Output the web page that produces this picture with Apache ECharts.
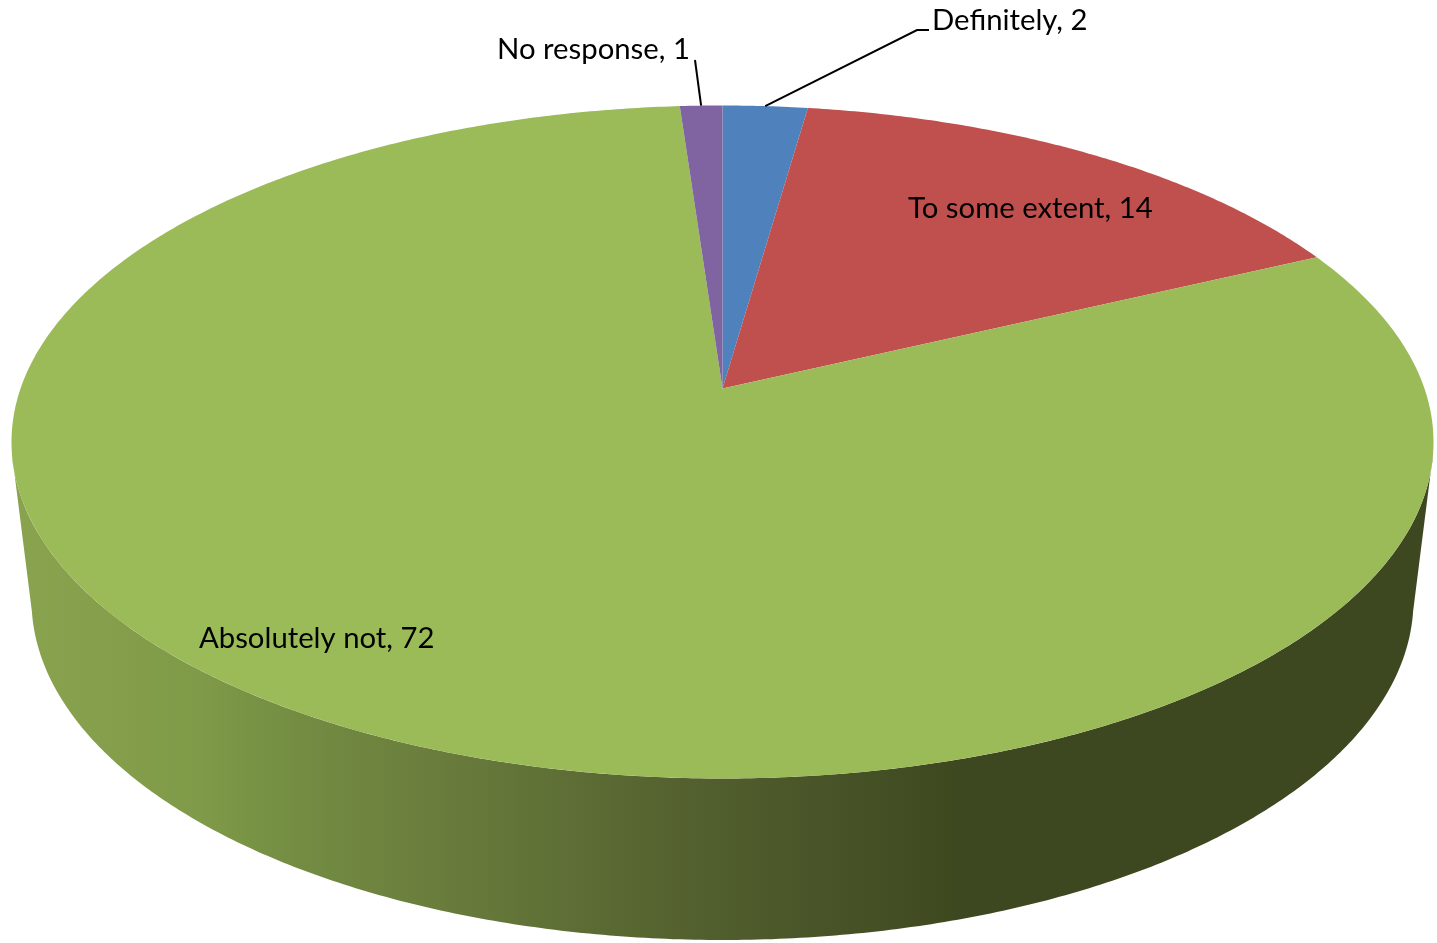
<!DOCTYPE html>
<html>
<head>
<meta charset="utf-8">
<style>html,body{margin:0;padding:0;background:#fff}#c{width:1437px;height:943px}</style>
<script src="https://cdn.jsdelivr.net/npm/echarts@6/dist/echarts.min.js"></script>
</head>
<body>
<div id="c"></div>
<script>
const categories = ['Definitely', 'To some extent', 'Absolutely not', 'No response'];
const values = [2, 14, 72, 1];
const colors = ['#4F81BD', '#C0504D', '#9BBB59', '#8064A2'];

// Layout of the tilted disc (pixels)
const topDisc = {cx: 722.5, cy: 442, a: 711, b: 336.5};
const bottomDisc = {cx: 722.5, cy: 600, a: 691, b: 340};
const tilt = -0.159;              // perspective shift of the pie's apex inside the ellipse
const frontFrom = 101, frontTo = 259; // visible rim, degrees clockwise from top
const labelLayout = [
  {x: 932, y: 21, elbow: [[917, 30], [929, 30]]},
  {x: 908, y: 209},
  {x: 199, y: 639},
  {x: 497, y: 50, elbow: [[695, 60]]}
];
const wallStops = [
  {offset: 33 / 1437, color: '#89A24E'},
  {offset: 200 / 1437, color: '#7F9A48'},
  {offset: 300 / 1437, color: '#738C42'},
  {offset: 400 / 1437, color: '#6D813E'},
  {offset: 700 / 1437, color: '#525F2E'},
  {offset: 960 / 1437, color: '#3E4820'},
  {offset: 1, color: '#3E4820'}
];

const total = values.reduce((s, v) => s + v, 0);
const norm = Math.sqrt(1 - tilt * tilt);

function project(disc, deg) {
  const t = deg * Math.PI / 180;
  const X = Math.sin(t), Y = -Math.cos(t);
  const d = 1 + tilt * Y;
  return [disc.cx + disc.a * X * norm / d, disc.cy + disc.b * (Y + tilt) / d];
}
function arc(disc, from, to) {
  const pts = [], n = Math.max(2, Math.ceil((to - from) * 2));
  for (let i = 0; i <= n; i++) pts.push(project(disc, from + (to - from) * i / n));
  return pts;
}
function renderItem(params, api) {
  const i = params.dataIndex;
  const before = values.slice(0, i).reduce((s, v) => s + v, 0);
  const start = before / total * 360;
  const end = (before + api.value(0)) / total * 360;
  const mid = (start + end) / 2;
  const children = [];

  const wallA = Math.max(start, frontFrom), wallB = Math.min(end, frontTo);
  if (wallB > wallA) {
    children.push({
      type: 'polygon',
      shape: {points: arc(topDisc, wallA, wallB).concat(arc(bottomDisc, wallA, wallB).reverse())},
      style: {fill: {type: 'linear', x: 0, y: 0, x2: 1437, y2: 0, global: true, colorStops: wallStops}}
    });
  }
  const apex = [topDisc.cx, topDisc.cy + topDisc.b * tilt];
  children.push({
    type: 'polygon',
    shape: {points: [apex].concat(arc(topDisc, start, end))},
    style: {fill: colors[i]}
  });
  const lay = labelLayout[i];
  if (lay.elbow) {
    children.push({
      type: 'polyline',
      shape: {points: [project(topDisc, mid)].concat(lay.elbow)},
      style: {stroke: '#000', lineWidth: 2, fill: null}
    });
  }
  children.push({
    type: 'text',
    style: {
      x: lay.x, y: lay.y,
      text: categories[i] + ', ' + values[i],
      font: '29.3px Lato, Carlito, sans-serif',
      fill: '#000', textAlign: 'left', verticalAlign: 'middle'
    }
  });
  return {type: 'group', children};
}

const chart = echarts.init(document.getElementById('c'), null, {renderer: 'canvas'});
chart.setOption({
  animation: false,
  backgroundColor: '#fff',
  series: [{
    type: 'custom',
    coordinateSystem: 'none',
    renderItem,
    data: categories.map((name, i) => ({name, value: [values[i]]}))
  }]
});
</script>
</body>
</html>
